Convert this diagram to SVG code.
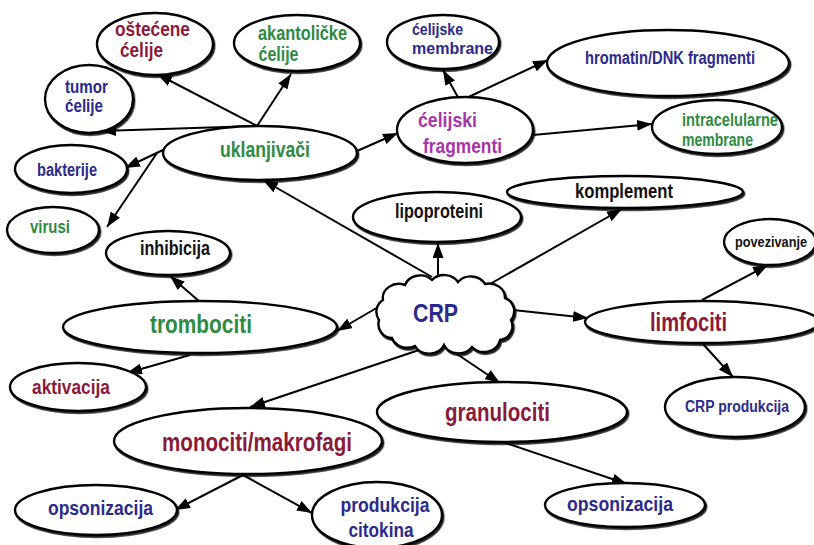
<svg xmlns="http://www.w3.org/2000/svg" width="814" height="545" viewBox="0 0 814 545">
<defs>
<marker id="ah" markerUnits="userSpaceOnUse" markerWidth="16" markerHeight="11" refX="15" refY="5.5" orient="auto">
<path d="M0,0 L15,5.5 L0,11 z" fill="#000"/>
</marker>
<filter id="sh" x="-10%" y="-10%" width="125%" height="130%">
<feDropShadow dx="1.3" dy="1.8" stdDeviation="0.6" flood-color="#000" flood-opacity="0.85"/>
</filter>
</defs>
<style>
.n{fill:#fff;stroke:#000;stroke-width:2.4;filter:url(#sh)}
.c line{stroke:#000;stroke-width:2;marker-end:url(#ah)}
text{font-family:"Liberation Sans",Arial,sans-serif;font-weight:bold;text-anchor:middle}
.r{fill:#8b1a3a}.g{fill:#2f8a42}.b{fill:#2b2a8c}.p{fill:#a834a8}.k{fill:#111}
</style>
<rect width="814" height="545" fill="#fff"/>
<g id="connectors" class="c">
<line x1="257" y1="126" x2="157" y2="74"/>
<line x1="257" y1="126" x2="291" y2="74"/>
<line x1="257" y1="126" x2="101" y2="131"/>
<line x1="163" y1="150" x2="125" y2="168"/>
<line x1="157" y1="153" x2="107" y2="227"/>
<line x1="432" y1="277" x2="263" y2="180"/>
<line x1="357" y1="151" x2="398" y2="133"/>
<line x1="460" y1="101" x2="443" y2="70"/>
<line x1="460" y1="101" x2="548" y2="60"/>
<line x1="533" y1="135" x2="652" y2="124"/>
<line x1="438" y1="277" x2="438" y2="243"/>
<line x1="490" y1="284" x2="622" y2="209"/>
<line x1="380" y1="306" x2="337" y2="331"/>
<line x1="200" y1="302" x2="170" y2="276"/>
<line x1="190" y1="355" x2="127" y2="373"/>
<line x1="422" y1="349" x2="250" y2="407"/>
<line x1="243" y1="475" x2="175" y2="510"/>
<line x1="243" y1="475" x2="312" y2="513"/>
<line x1="442" y1="344" x2="500" y2="383"/>
<line x1="503" y1="442" x2="627" y2="484"/>
<line x1="513" y1="310" x2="588" y2="318"/>
<line x1="702" y1="300" x2="768" y2="265"/>
<line x1="703" y1="344" x2="733" y2="377"/>
</g>
<g id="ostecene"><ellipse class="n" cx="155" cy="44" rx="58" ry="31"/><text class="r" x="152.5" y="36" font-size="20" textLength="75" lengthAdjust="spacingAndGlyphs">oštećene</text><text class="r" x="141.5" y="57" font-size="20" textLength="43" lengthAdjust="spacingAndGlyphs">ćelije</text></g>
<g id="akantolicke"><ellipse class="n" cx="297" cy="43" rx="63" ry="28"/><text class="g" x="302.5" y="40" font-size="20" textLength="89" lengthAdjust="spacingAndGlyphs">akantoličke</text><text class="g" x="278.5" y="61" font-size="20" textLength="40" lengthAdjust="spacingAndGlyphs">ćelije</text></g>
<g id="tumor"><ellipse class="n" cx="89" cy="99" rx="44" ry="34"/><text class="b" x="86.5" y="93" font-size="18" textLength="43" lengthAdjust="spacingAndGlyphs">tumor</text><text class="b" x="84" y="112" font-size="18" textLength="38" lengthAdjust="spacingAndGlyphs">ćelije</text></g>
<g id="uklanjivaci"><ellipse class="n" cx="260" cy="153" rx="97" ry="27"/><text class="g" x="265" y="157" font-size="22" textLength="90" lengthAdjust="spacingAndGlyphs">uklanjivači</text></g>
<g id="bakterije"><ellipse class="n" cx="71" cy="169" rx="56" ry="24"/><text class="b" x="67" y="176" font-size="18" textLength="60" lengthAdjust="spacingAndGlyphs">bakterije</text></g>
<g id="virusi"><ellipse class="n" cx="53" cy="230" rx="46" ry="23"/><text class="g" x="50" y="233" font-size="18" textLength="40" lengthAdjust="spacingAndGlyphs">virusi</text></g>
<g id="inhibicija"><ellipse class="n" cx="168" cy="253" rx="62" ry="22"/><text class="k" x="175" y="255" font-size="20" textLength="70" lengthAdjust="spacingAndGlyphs">inhibicija</text></g>
<g id="trombociti"><ellipse class="n" cx="200" cy="327" rx="137" ry="26"/><text class="g" x="201" y="333" font-size="25" textLength="102" lengthAdjust="spacingAndGlyphs">trombociti</text></g>
<g id="aktivacija"><ellipse class="n" cx="78" cy="387" rx="68" ry="24"/><text class="r" x="71" y="394" font-size="21" textLength="78" lengthAdjust="spacingAndGlyphs">aktivacija</text></g>
<g id="monociti"><ellipse class="n" cx="248" cy="441" rx="134" ry="33"/><text class="r" x="257" y="451" font-size="25" textLength="190" lengthAdjust="spacingAndGlyphs">monociti/makrofagi</text></g>
<g id="opsonizacija-l"><ellipse class="n" cx="96" cy="510" rx="81" ry="25"/><text class="b" x="100.5" y="515" font-size="21" textLength="105" lengthAdjust="spacingAndGlyphs">opsonizacija</text></g>
<g id="produkcija-citokina"><ellipse class="n" cx="377" cy="515" rx="65" ry="33"/><text class="b" x="385" y="512" font-size="21" textLength="89" lengthAdjust="spacingAndGlyphs">produkcija</text><text class="b" x="381" y="537" font-size="21" textLength="65" lengthAdjust="spacingAndGlyphs">citokina</text></g>
<g id="crp"><path class="n" d="M383,300 A16,14 0 0 1 405,285 A16,14 0 0 1 432,280 A16,14 0 0 1 458,282 A16,14 0 0 1 485,284 A16,14 0 0 1 505,298 A14,14 0 0 1 511,320 A14,14 0 0 1 500,340 A16,14 0 0 1 472,347 A16,14 0 0 1 444,345 A16,14 0 0 1 415,346 A16,14 0 0 1 392,338 A14,14 0 0 1 379,320 A14,14 0 0 1 383,300 Z"/><text class="b" x="435.5" y="322" font-size="26" textLength="45" lengthAdjust="spacingAndGlyphs">CRP</text></g>
<g id="lipoproteini"><ellipse class="n" cx="437" cy="217" rx="84" ry="25"/><text class="k" x="439" y="218" font-size="20" textLength="88" lengthAdjust="spacingAndGlyphs">lipoproteini</text></g>
<g id="komplement"><ellipse class="n" cx="625" cy="192" rx="118" ry="16"/><text class="k" x="624" y="198" font-size="20" textLength="98" lengthAdjust="spacingAndGlyphs">komplement</text></g>
<g id="celijske-membrane"><ellipse class="n" cx="443" cy="42" rx="56" ry="27"/><text class="b" x="437.5" y="35" font-size="17" textLength="51" lengthAdjust="spacingAndGlyphs">ćelijske</text><text class="b" x="452.5" y="54" font-size="17" textLength="81" lengthAdjust="spacingAndGlyphs">membrane</text></g>
<g id="hromatin"><ellipse class="n" cx="668" cy="63" rx="121" ry="33"/><text class="b" x="670" y="64" font-size="18" textLength="170" lengthAdjust="spacingAndGlyphs">hromatin/DNK fragmenti</text></g>
<g id="celijski-fragmenti"><ellipse class="n" cx="465" cy="130" rx="68" ry="33"/><text class="p" x="447.5" y="127" font-size="21" textLength="59" lengthAdjust="spacingAndGlyphs">ćelijski</text><text class="p" x="462.5" y="153" font-size="21" textLength="79" lengthAdjust="spacingAndGlyphs">fragmenti</text></g>
<g id="intracelularne"><ellipse class="n" cx="717" cy="127" rx="65" ry="27"/><text class="g" x="730" y="126" font-size="18" textLength="96" lengthAdjust="spacingAndGlyphs">intracelularne</text><text class="g" x="717.5" y="146" font-size="18" textLength="71" lengthAdjust="spacingAndGlyphs">membrane</text></g>
<g id="povezivanje"><ellipse class="n" cx="770" cy="242" rx="46" ry="23"/><text class="k" x="771" y="247" font-size="14" textLength="72" lengthAdjust="spacingAndGlyphs">povezivanje</text></g>
<g id="limfociti"><ellipse class="n" cx="702" cy="322" rx="117" ry="21"/><text class="r" x="688.5" y="331" font-size="25" textLength="77" lengthAdjust="spacingAndGlyphs">limfociti</text></g>
<g id="crp-produkcija"><ellipse class="n" cx="735" cy="407" rx="70" ry="30"/><text class="b" x="737" y="412" font-size="16" textLength="104" lengthAdjust="spacingAndGlyphs">CRP produkcija</text></g>
<g id="granulociti"><ellipse class="n" cx="502" cy="412" rx="125" ry="30"/><text class="r" x="497.5" y="421" font-size="25" textLength="105" lengthAdjust="spacingAndGlyphs">granulociti</text></g>
<g id="opsonizacija-r"><ellipse class="n" cx="625" cy="505" rx="80" ry="22"/><text class="b" x="620" y="511" font-size="21" textLength="106" lengthAdjust="spacingAndGlyphs">opsonizacija</text></g>
</svg>
